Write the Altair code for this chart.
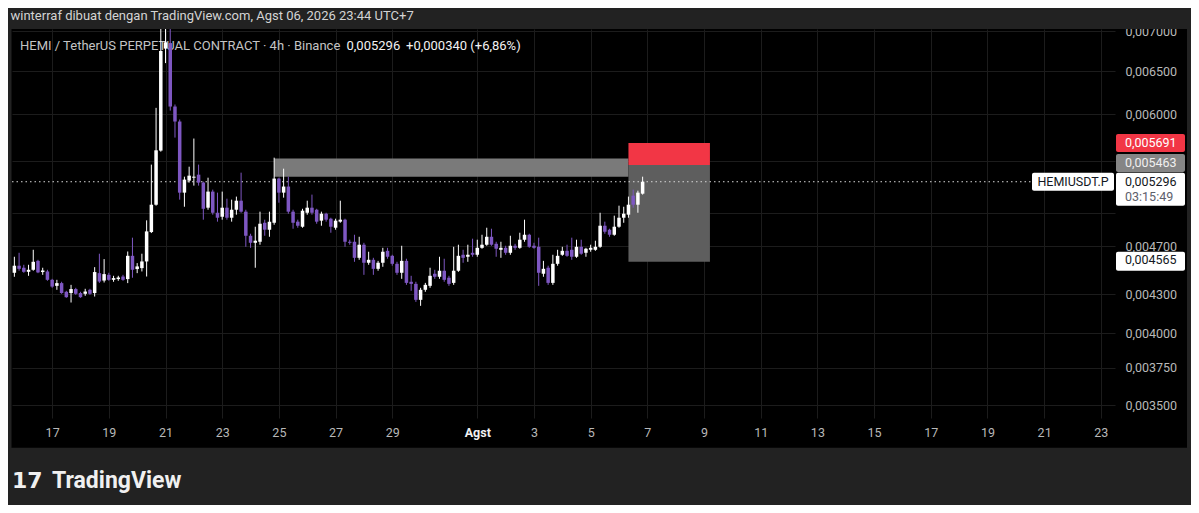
import altair as alt
import pandas as pd

# ---------------- data ----------------
first_bar = "2026-07-15 19:00"   # open time of the first 4h bar (UTC+7)
bar_hours = 4

opens = [0.004473, 0.004532, 0.004515, 0.004481, 0.004498, 0.004573, 0.004479, 0.004484, 0.004415, 0.004366,
         0.004388, 0.004318, 0.004308, 0.004340, 0.004308, 0.004302, 0.004334, 0.004308, 0.004470, 0.004409,
         0.004456, 0.004415, 0.004421, 0.004442, 0.004421, 0.004616, 0.004504, 0.004512, 0.004568, 0.004824,
         0.005075, 0.005611, 0.006780, 0.006850, 0.006089, 0.005922, 0.005190, 0.005307, 0.005336, 0.005366,
         0.005288, 0.005047, 0.005200, 0.005000, 0.004963, 0.005047, 0.004954, 0.005028, 0.005113, 0.005010,
         0.004791, 0.004729, 0.004738, 0.004908, 0.004845, 0.004908, 0.005327, 0.005190, 0.005249, 0.005010,
         0.004918, 0.004872, 0.005000, 0.005047, 0.005028, 0.004927, 0.004991, 0.004945, 0.004863, 0.004918,
         0.004936, 0.004738, 0.004738, 0.004599, 0.004712, 0.004557, 0.004582, 0.004506, 0.004557, 0.004659,
         0.004616, 0.004548, 0.004473, 0.004573, 0.004399, 0.004382, 0.004254, 0.004334, 0.004366, 0.004465,
         0.004440, 0.004490, 0.004432, 0.004390, 0.004490, 0.004625, 0.004608, 0.004642, 0.004625, 0.004685,
         0.004712, 0.004782, 0.004720, 0.004668, 0.004685, 0.004642, 0.004703, 0.004685, 0.004756, 0.004800,
         0.004703, 0.004694, 0.004465, 0.004515, 0.004390, 0.004548, 0.004625, 0.004659, 0.004668, 0.004608,
         0.004694, 0.004642, 0.004668, 0.004668, 0.004694, 0.004881, 0.004845, 0.004800, 0.004872, 0.004954,
         0.004982, 0.005161, 0.005075, 0.005180]
highs = [0.004608, 0.004642, 0.004540, 0.004540, 0.004668, 0.004582, 0.004515, 0.004498, 0.004423, 0.004415,
         0.004399, 0.004326, 0.004374, 0.004350, 0.004318, 0.004342, 0.004342, 0.004520, 0.004634, 0.004588,
         0.004473, 0.004448, 0.004448, 0.004456, 0.004653, 0.004774, 0.004554, 0.004634, 0.004930, 0.005467,
         0.006074, 0.007060, 0.007080, 0.007050, 0.006112, 0.005944, 0.005346, 0.005446, 0.005738, 0.005467,
         0.005297, 0.005336, 0.005219, 0.005190, 0.005200, 0.005132, 0.005123, 0.005152, 0.005386, 0.005028,
         0.004809, 0.004872, 0.005010, 0.004936, 0.005010, 0.005538, 0.005336, 0.005426, 0.005346, 0.005028,
         0.004936, 0.005037, 0.005113, 0.005171, 0.005037, 0.005010, 0.005000, 0.004954, 0.004945, 0.005113,
         0.004945, 0.004756, 0.004800, 0.004782, 0.004729, 0.004651, 0.004599, 0.004573, 0.004685, 0.004685,
         0.004625, 0.004565, 0.004703, 0.004591, 0.004448, 0.004399, 0.004350, 0.004390, 0.004515, 0.004498,
         0.004608, 0.004591, 0.004448, 0.004694, 0.004712, 0.004668, 0.004712, 0.004765, 0.004756, 0.004800,
         0.004863, 0.004854, 0.004738, 0.004738, 0.004703, 0.004791, 0.004720, 0.004818, 0.004936, 0.004809,
         0.004729, 0.004774, 0.004573, 0.004532, 0.004625, 0.004668, 0.004694, 0.004712, 0.004774, 0.004756,
         0.004756, 0.004685, 0.004712, 0.004747, 0.005000, 0.004918, 0.004854, 0.004973, 0.005066, 0.005056,
         0.005152, 0.005219, 0.005209, 0.005346]
lows = [0.004440, 0.004490, 0.004473, 0.004448, 0.004490, 0.004470, 0.004456, 0.004407, 0.004350, 0.004334,
        0.004302, 0.004270, 0.004233, 0.004294, 0.004270, 0.004286, 0.004294, 0.004280, 0.004390, 0.004393,
        0.004407, 0.004399, 0.004407, 0.004407, 0.004388, 0.004432, 0.004470, 0.004484, 0.004442, 0.004815,
        0.005066, 0.005600, 0.006600, 0.006043, 0.005748, 0.005123, 0.005056, 0.005288, 0.005258, 0.005258,
        0.004936, 0.005028, 0.004982, 0.004918, 0.004936, 0.004936, 0.004918, 0.004982, 0.005000, 0.004694,
        0.004685, 0.004515, 0.004712, 0.004791, 0.004782, 0.004890, 0.005094, 0.005142, 0.004991, 0.004854,
        0.004863, 0.004863, 0.004982, 0.004982, 0.004899, 0.004881, 0.004918, 0.004818, 0.004845, 0.004908,
        0.004694, 0.004712, 0.004565, 0.004582, 0.004456, 0.004540, 0.004456, 0.004490, 0.004523, 0.004591,
        0.004532, 0.004456, 0.004423, 0.004374, 0.004326, 0.004238, 0.004207, 0.004318, 0.004350, 0.004423,
        0.004423, 0.004399, 0.004366, 0.004374, 0.004481, 0.004557, 0.004565, 0.004608, 0.004608, 0.004677,
        0.004703, 0.004703, 0.004608, 0.004599, 0.004625, 0.004625, 0.004668, 0.004677, 0.004738, 0.004685,
        0.004677, 0.004366, 0.004440, 0.004374, 0.004374, 0.004532, 0.004616, 0.004608, 0.004582, 0.004599,
        0.004625, 0.004608, 0.004651, 0.004659, 0.004685, 0.004809, 0.004782, 0.004791, 0.004863, 0.004908,
        0.004954, 0.005047, 0.005000, 0.005171]
closes = [0.004532, 0.004506, 0.004481, 0.004498, 0.004565, 0.004476, 0.004492, 0.004415, 0.004360, 0.004388,
          0.004308, 0.004275, 0.004340, 0.004302, 0.004275, 0.004320, 0.004302, 0.004479, 0.004401, 0.004462,
          0.004415, 0.004429, 0.004434, 0.004415, 0.004616, 0.004498, 0.004526, 0.004568, 0.004830, 0.005075,
          0.005614, 0.006750, 0.006860, 0.006089, 0.005922, 0.005190, 0.005317, 0.005356, 0.005346, 0.005288,
          0.005037, 0.005200, 0.005000, 0.004954, 0.005047, 0.004954, 0.005028, 0.005113, 0.005010, 0.004791,
          0.004729, 0.004747, 0.004899, 0.004845, 0.004918, 0.005327, 0.005190, 0.005249, 0.005010, 0.004908,
          0.004881, 0.005019, 0.005047, 0.005000, 0.004918, 0.004991, 0.004936, 0.004872, 0.004927, 0.004936,
          0.004738, 0.004729, 0.004599, 0.004712, 0.004557, 0.004582, 0.004506, 0.004557, 0.004651, 0.004608,
          0.004548, 0.004473, 0.004573, 0.004390, 0.004382, 0.004254, 0.004334, 0.004374, 0.004448, 0.004440,
          0.004490, 0.004415, 0.004382, 0.004490, 0.004616, 0.004599, 0.004625, 0.004625, 0.004685, 0.004712,
          0.004782, 0.004712, 0.004677, 0.004685, 0.004642, 0.004703, 0.004685, 0.004756, 0.004800, 0.004694,
          0.004685, 0.004473, 0.004506, 0.004390, 0.004548, 0.004616, 0.004659, 0.004616, 0.004608, 0.004694,
          0.004634, 0.004677, 0.004685, 0.004694, 0.004881, 0.004827, 0.004800, 0.004872, 0.004954, 0.004991,
          0.005075, 0.005075, 0.005190, 0.005296]

tick_dates = ["2026-07-17", "2026-07-19", "2026-07-21", "2026-07-23", "2026-07-25", "2026-07-27",
              "2026-07-29", "2026-08-01", "2026-08-03", "2026-08-05", "2026-08-07", "2026-08-09",
              "2026-08-11", "2026-08-13", "2026-08-15", "2026-08-17", "2026-08-19", "2026-08-21",
              "2026-08-23"]
tick_labels = ["17", "19", "21", "23", "25", "27", "29", "Agst", "3", "5", "7", "9",
               "11", "13", "15", "17", "19", "21", "23"]
price_ticks = [0.0035, 0.00375, 0.004, 0.0043, 0.0047, 0.005, 0.0055, 0.006, 0.0065, 0.007]
hidden_price_ticks = [0.005, 0.0055]

header_text = "winterraf dibuat dengan TradingView.com, Agst 06, 2026 23:44 UTC+7"
legend_text = "HEMI / TetherUS PERPETUAL CONTRACT · 4h · Binance"
symbol = "HEMIUSDT.P"
last_price = 0.005296
change_abs = 0.000340
change_pct = 6.86
countdown = "03:15:49"

stop_price = 0.005691
entry_price = 0.005463
target_price = 0.004565
zone_top, zone_bottom = 0.005530, 0.005345
zone_start = "2026-07-24 23:00"
tool_start = "2026-08-06 11:00"
tool_end = "2026-08-09 08:00"

# ---------------- helpers ----------------
t0 = pd.Timestamp(first_bar)
step = pd.Timedelta(hours=bar_hours)


def to_bar(ts):
    return (pd.Timestamp(ts) - t0) / step


def fmt(p):
    return f"{p:.6f}".replace(".", ",")


tick_bars = [int(round(to_bar(pd.Timestamp(d) + pd.Timedelta(hours=3)))) for d in tick_dates]
agst_bar = tick_bars[tick_labels.index("Agst")]

df = pd.DataFrame({"open": opens, "high": highs, "low": lows, "close": closes})
df["bar"] = range(len(df))
df["dir"] = ["up" if c >= o else "down" for o, c in zip(opens, closes)]

W, H = 1103, 389
BG = "#000000"
FRAME = "#222222"
GRID = "#1c1c1c"
UP = "#ffffff"
DOWN = "#7e57c2"
FONT = "Roboto"

x_scale = alt.Scale(domain=[-0.5, 233.0], nice=False, zero=False, padding=0)
y_scale = alt.Scale(type="log", domain=[0.0034166, 0.007031], nice=False, padding=0)

lbl_arr = "[" + ",".join(f"'{l}'" for l in tick_labels) + "]"
val_arr = "[" + ",".join(str(v) for v in tick_bars) + "]"
x_axis = alt.Axis(values=tick_bars, labelExpr=f"{lbl_arr}[indexof({val_arr}, datum.value)]",
                  grid=True, gridColor=GRID, gridWidth=1, ticks=False, tickSize=0, domain=False,
                  labelFont=FONT, labelFontSize=12.5, labelPadding=14, labelBaseline="middle",
                  labelFlush=False, labelOverlap=False, title=None,
                  labelColor={"condition": {"test": f"datum.value == {agst_bar}", "value": "#f0f0f0"},
                              "value": "#b8b8b8"},
                  labelFontWeight={"condition": {"test": f"datum.value == {agst_bar}", "value": "bold"},
                                   "value": "normal"})
hide = " || ".join(f"datum.value == {v}" for v in hidden_price_ticks)
y_axis = alt.Axis(orient="right", values=price_ticks,
                  labelExpr=f"({hide}) ? '' : replace(format(datum.value, '.6f'), '.', ',')",
                  grid=True, gridColor=GRID, gridWidth=1, ticks=False, tickSize=0, domain=False,
                  labelFont=FONT, labelFontSize=12.5, labelColor="#b8b8b8", labelAlign="left",
                  labelPadding=10, labelBaseline="middle", labelOverlap=False, title=None)


def X(f):
    return alt.X(f"{f}:Q", scale=x_scale, axis=x_axis)


def Y(f):
    return alt.Y(f"{f}:Q", scale=y_scale, axis=y_axis)


one = pd.DataFrame({"k": [0]})

# ---------------- layers ----------------
zone = alt.Chart(pd.DataFrame({"x0": [to_bar(zone_start)], "x1": [to_bar(tool_start)],
                               "p0": [zone_bottom], "p1": [zone_top]})).mark_rect(
    color="#7a7a7a").encode(x=X("x0"), x2="x1", y=Y("p0"), y2="p1")

tool_red = alt.Chart(pd.DataFrame({"x0": [to_bar(tool_start)], "x1": [to_bar(tool_end)],
                                   "p0": [entry_price], "p1": [stop_price]})).mark_rect(
    color="#f23645").encode(x=X("x0"), x2="x1", y=Y("p0"), y2="p1")
tool_gray = alt.Chart(pd.DataFrame({"x0": [to_bar(tool_start)], "x1": [to_bar(tool_end)],
                                    "p0": [target_price], "p1": [entry_price]})).mark_rect(
    color="#5e5e5e").encode(x=X("x0"), x2="x1", y=Y("p0"), y2="p1")

legend1 = alt.Chart(one).mark_text(align="left", baseline="middle", font=FONT, fontSize=13,
                                   color="#c4c4c4").encode(
    x=alt.value(8), y=alt.value(17), text=alt.value(legend_text))
legend2 = alt.Chart(one).mark_text(align="left", baseline="middle", font=FONT, fontSize=13,
                                   color="#f2f2f2").encode(
    x=alt.value(334.5), y=alt.value(17), text=alt.value(fmt(last_price)))
legend3 = alt.Chart(one).mark_text(align="left", baseline="middle", font=FONT, fontSize=13,
                                   color="#f2f2f2").encode(
    x=alt.value(394), y=alt.value(17),
    text=alt.value(f"+{fmt(change_abs)} (+{change_pct:.2f}%)".replace(".", ",")))

price_line = alt.Chart(pd.DataFrame({"p": [last_price]})).mark_rule(
    color="#d8d8d8", strokeWidth=1, strokeDash=[1.5, 3]).encode(
    y=Y("p"), x=alt.value(0), x2=alt.value(1020))

color = alt.Color("dir:N", scale=alt.Scale(domain=["up", "down"], range=[UP, DOWN]), legend=None)
wicks = alt.Chart(df).mark_rule(strokeWidth=1).encode(x=X("bar"), y=Y("low"), y2="high", color=color)
bodies = alt.Chart(df).mark_bar(size=3.5).encode(x=X("bar"), y=Y("open"), y2="close", color=color)


def frame(x0, x1, y0, y1):
    return alt.Chart(one).mark_rect(color=FRAME).encode(
        x=alt.value(x0), x2=alt.value(x1), y=alt.value(y0), y2=alt.value(y1))


frames = [frame(-20, 1200, -40, 0), frame(-20, -0.5, -40, 520),
          frame(1175, 1200, -40, 520), frame(-20, 1200, 418.7, 520)]

header = alt.Chart(one).mark_text(align="left", baseline="middle", font=FONT, fontSize=13,
                                  color="#d4d4d4").encode(
    x=alt.value(-1.5), y=alt.value(-13), text=alt.value(header_text))
logo = alt.Chart(one).mark_text(align="left", baseline="middle", font="DejaVu Sans", fontSize=22,
                                fontWeight="bold", color="#f0f0f0").encode(
    x=alt.value(0), y=alt.value(452), text=alt.value("17"))
brand = alt.Chart(one).mark_text(align="left", baseline="middle", font=FONT, fontSize=23,
                                 fontWeight="bold", color="#f0f0f0").encode(
    x=alt.value(40), y=alt.value(452), text=alt.value("TradingView"))


def price_box(p, fill, top, bottom, x0=1104, x1=1173):
    return alt.Chart(pd.DataFrame({"p": [p]})).mark_rect(
        color=fill, cornerRadius=2, yOffset=top, y2Offset=bottom).encode(
        x=alt.value(x0), x2=alt.value(x1), y=Y("p"), y2="p")


def price_text(p, txt, col, dy=0, x=1113, align="left"):
    return alt.Chart(pd.DataFrame({"p": [p]})).mark_text(
        align=align, baseline="middle", font=FONT, fontSize=12.5, color=col, dy=dy).encode(
        x=alt.value(x), y=Y("p"), text=alt.value(txt))


labels = [
    price_box(stop_price, "#f23645", -9, 9), price_text(stop_price, fmt(stop_price), "#ffffff"),
    price_box(entry_price, "#858585", -11, 7), price_text(entry_price, fmt(entry_price), "#f0f0f0", dy=-2),
    price_box(last_price, "#ffffff", -9, 24), price_text(last_price, fmt(last_price), "#131722"),
    price_text(last_price, countdown, "#5d606b", dy=15),
    price_box(last_price, "#ffffff", -9, 9, x0=1020, x1=1102),
    price_text(last_price, symbol, "#131722", x=1061, align="center"),
    price_box(target_price, "#ffffff", -10, 9), price_text(target_price, fmt(target_price), "#131722", dy=-1.5),
]

chart = alt.layer(zone, tool_red, tool_gray, legend1, legend2, legend3, price_line, wicks, bodies,
                  *frames, header, logo, brand, *labels).properties(
    width=W, height=H,
    padding={"left": 4, "top": 21, "right": 76, "bottom": 87},
    autosize=alt.AutoSizeParams(type="none"),
    background=BG,
).configure_view(stroke="transparent")

chart.save("out.html", embed_options={"renderer": "svg", "actions": False})
